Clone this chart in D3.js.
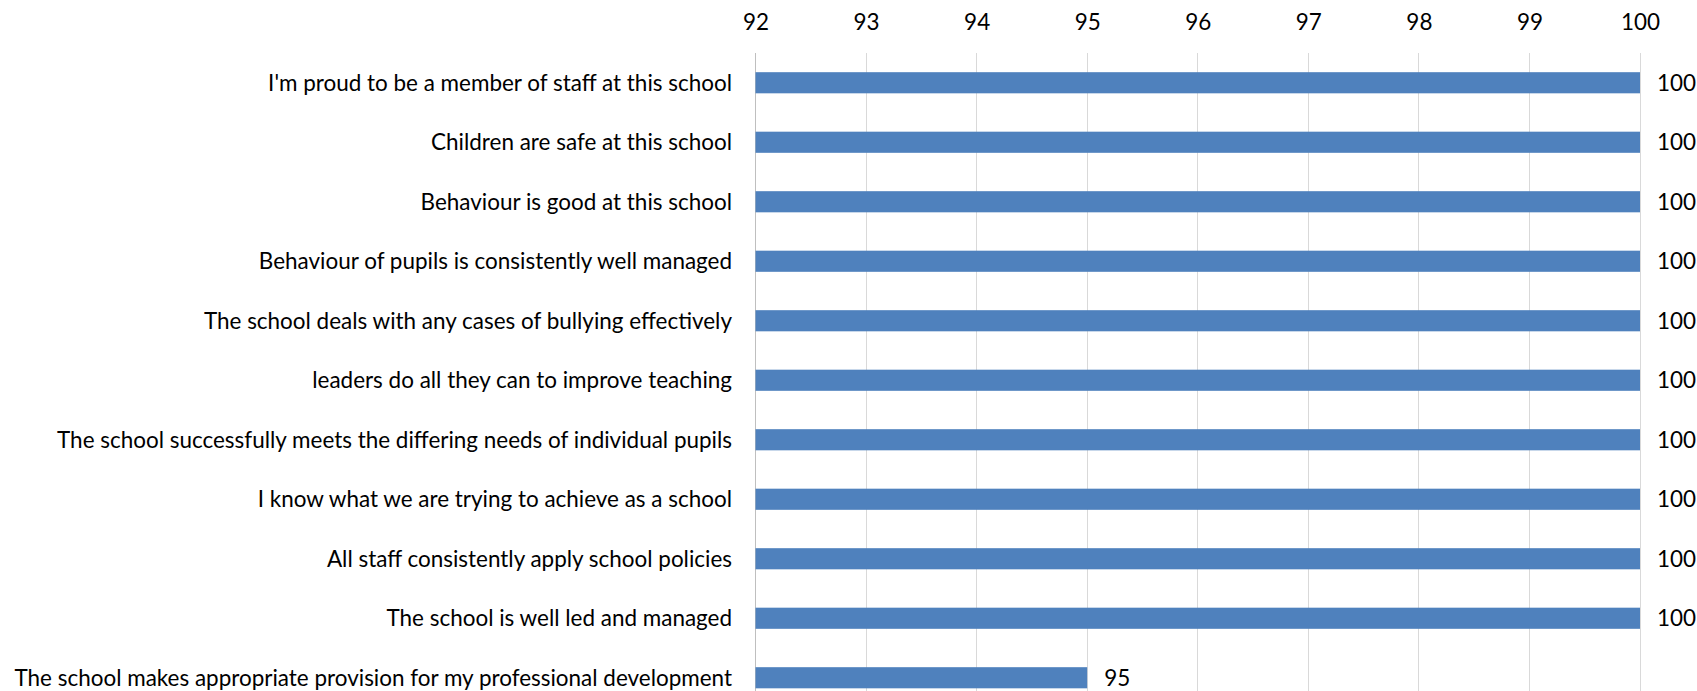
<!DOCTYPE html>
<html><head><meta charset="utf-8">
<script src="https://cdn.jsdelivr.net/npm/d3@7"></script>
<style>html,body{margin:0;padding:0;background:#fff;overflow:hidden}</style>
</head><body>
<svg id="chart" width="1697" height="691"></svg>
<script>
const categories = [
  "I'm proud to be a member of staff at this school",
  "Children are safe at this school",
  "Behaviour is good at this school",
  "Behaviour of pupils is consistently well managed",
  "The school deals with any cases of bullying effectively",
  "leaders do all they can to improve teaching",
  "The school successfully meets the differing needs of individual pupils",
  "I know what we are trying to achieve as a school",
  "All staff consistently apply school policies",
  "The school is well led and managed ",
  "The school makes appropriate provision for my professional development"
];
const values = [100, 100, 100, 100, 100, 100, 100, 100, 100, 100, 95];
const tickValues = [92, 93, 94, 95, 96, 97, 98, 99, 100];

const svg = d3.select("#chart");
const font = "Lato, 'Open Sans', sans-serif";

const x = d3.scaleLinear().domain([92, 100]).range([755.5, 1640]);
const y = d3.scaleBand().domain(categories).range([53, 707.5]).paddingInner(0.645).paddingOuter(0.3225);

// measure font size so longest label fits target width
const probe = svg.append("text").attr("font-family", font).attr("font-size", 24)
  .text(categories[categories.length - 1]);
const w = probe.node().getComputedTextLength();
probe.remove();
let fs = 24 * 718 / w;
fs = Math.max(18, Math.min(24, fs));

// gridlines
svg.append("g").selectAll("line").data(tickValues).join("line")
  .attr("x1", d => x(d) + 0.5 - (x(d) % 1)).attr("x2", d => x(d) + 0.5 - (x(d) % 1))
  .attr("y1", 53).attr("y2", 691)
  .attr("stroke", d => d === 92 ? "#bfbfbf" : "#d9d9d9").attr("stroke-width", 1);

// top axis labels
const axis = d3.axisTop(x).tickValues(tickValues).tickSize(0).tickPadding(0).tickFormat(d3.format("d"));
const ax = svg.append("g").attr("transform", "translate(0,30)").call(axis);
ax.select(".domain").remove();
ax.selectAll("text").attr("font-family", font).attr("font-size", fs).attr("fill", "#000")
  .attr("dy", 0);

// bars
svg.append("g").selectAll("rect").data(categories).join("rect")
  .attr("x", x(92))
  .attr("y", d => y(d))
  .attr("width", (d, i) => x(values[i]) - x(92))
  .attr("height", y.bandwidth())
  .attr("fill", "#4f81bd");

// value labels
svg.append("g").selectAll("text").data(categories).join("text")
  .attr("x", (d, i) => x(values[i]) + 17)
  .attr("y", d => y(d) + y.bandwidth() / 2)
  .attr("dy", "0.35em")
  .attr("font-family", font).attr("font-size", fs).attr("fill", "#000")
  .text((d, i) => values[i]);

// category labels
svg.append("g").selectAll("text").data(categories).join("text")
  .attr("x", 732)
  .attr("y", d => y(d) + y.bandwidth() / 2)
  .attr("dy", "0.35em")
  .attr("text-anchor", "end")
  .attr("font-family", font).attr("font-size", fs).attr("fill", "#000")
  .text(d => d);
</script>
</body></html>
